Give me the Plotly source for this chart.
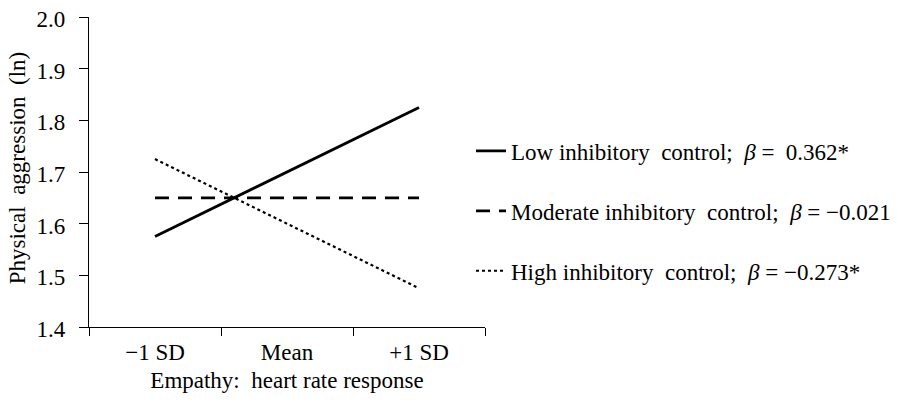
import plotly.graph_objects as go

categories = ["\u22121 SD", "Mean", "+1 SD"]
low_ic = [1.575, 1.700, 1.825]
moderate_ic = [1.650, 1.650, 1.650]
high_ic = [1.725, 1.600, 1.475]
series_names = [
    "Low inhibitory  control;  <i>\u03b2</i> =  0.362*",
    "Moderate inhibitory  control;  <i>\u03b2</i> = \u22120.021",
    "High inhibitory  control;  <i>\u03b2</i> = \u22120.273*",
]
y_ticks = [1.4, 1.5, 1.6, 1.7, 1.8, 1.9, 2.0]
y_title = "Physical  aggression  (ln)"
x_title = "Empathy:  heart rate response"

FONT = "Liberation Serif, Times New Roman, serif"

fig = go.Figure()
styles = [("solid", 2.8), ("14px,9px", 2.8), ("dot", 2.2)]
for i, (vals, name) in enumerate(zip([low_ic, moderate_ic, high_ic], series_names)):
    dash, w = styles[i]
    fig.add_trace(go.Scatter(
        x=categories, y=vals, mode="lines", name=name,
        legendgroup=f"g{i}",
        line=dict(color="black", width=w, dash=dash),
    ))

fig.update_layout(
    width=898, height=406,
    margin=dict(l=81, r=421, t=9, b=87, autoexpand=False),
    paper_bgcolor="white", plot_bgcolor="white",
    font=dict(family=FONT, color="black"),
    showlegend=True,
    legend=dict(
        x=463 / 898, xanchor="left", y=1 - 203 / 406, yanchor="middle",
        xref="container", yref="container",
        font=dict(size=23, family=FONT, color="black"),
        tracegroupgap=27, bgcolor="rgba(0,0,0,0)",
    ),
    annotations=[dict(
        text=y_title, textangle=-90, showarrow=False,
        xref="paper", yref="paper", x=-0.182, y=0.515,
        xanchor="center", yanchor="middle",
        font=dict(size=23, family=FONT, color="black"),
    )],
)
fig.update_xaxes(
    type="category", range=[-0.5, 2.5], automargin=True,
    tickson="boundaries", ticks="outside", ticklen=8, tickwidth=1.3, tickcolor="black",
    showline=True, linecolor="black", linewidth=1.3,
    showgrid=False, zeroline=False, ticklabeloverflow="allow",
    ticklabelstandoff=4,
    tickfont=dict(size=23, family=FONT),
    title=dict(text=x_title, font=dict(size=23, family=FONT), standoff=8),
)
fig.update_yaxes(
    range=[1.4, 2.0], tickvals=y_ticks, ticktext=[f"{v:.1f}" for v in y_ticks],
    automargin=True, ticklabeloverflow="allow",
    ticks="outside", ticklen=9, tickwidth=1.3, tickcolor="black",
    ticklabelstandoff=9, ticklabelshift=2,
    showline=True, linecolor="black", linewidth=1.3,
    showgrid=False, zeroline=False,
    tickfont=dict(size=23, family=FONT),
)

fig.write_html("out.html")
